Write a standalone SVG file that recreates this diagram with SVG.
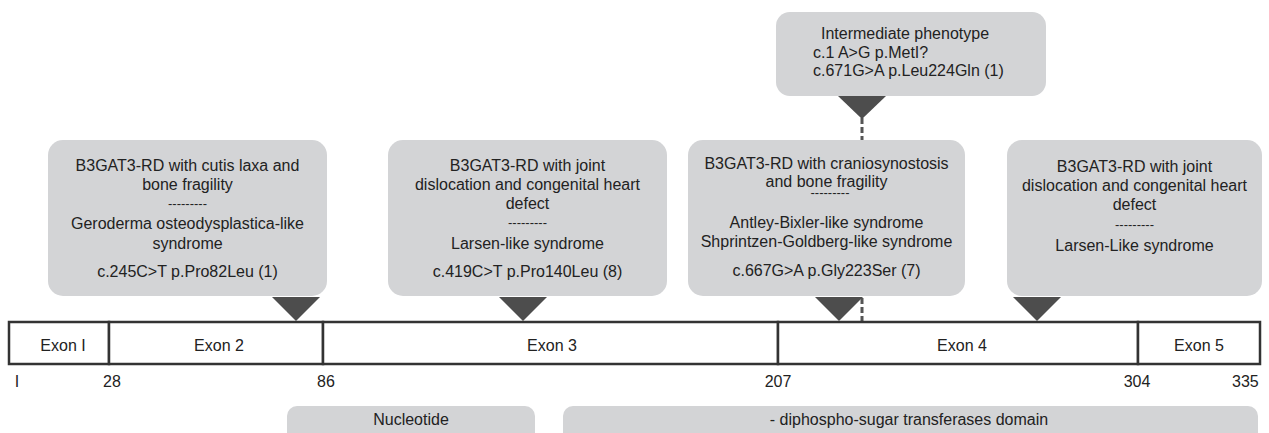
<svg xmlns="http://www.w3.org/2000/svg" width="1269" height="433" viewBox="0 0 1269 433">
<style>
  text { font-family: "Liberation Sans", Arial, sans-serif; font-size: 16px; fill: #222; }
  .c { text-anchor: middle; }
  .dash { font-size: 13px; }
  .box { fill: #d3d4d6; }
  .tri { fill: #4d4d4d; }
  .exon { fill: #fff; stroke: #333; stroke-width: 2.5; }
  .link { stroke: #555; stroke-width: 3; stroke-dasharray: 6 3; fill: none; }
</style>
<rect width="1269" height="433" fill="#fff"/>

<g id="connectors">
  <line class="link" x1="862" y1="118" x2="862" y2="322"/>
  <polygon class="tri" points="838,96 886,96 862,119"/>
  <polygon class="tri" points="272,297 320,297 296,321"/>
  <polygon class="tri" points="499,297 547,297 523,321"/>
  <polygon class="tri" points="815,297 863,297 839,321"/>
  <polygon class="tri" points="1013,297 1061,297 1037,321"/>
</g>

<g id="intermediate">
  <rect class="box" x="776" y="12" width="270" height="84" rx="14"/>
  <text class="c" x="905" y="39">Intermediate phenotype</text>
  <text x="813" y="58">c.1 A&gt;G p.MetI?</text>
  <text x="813" y="76">c.671G&gt;A p.Leu224Gln (1)</text>
</g>

<g id="box-cutis-laxa">
  <rect class="box" x="48" y="140" width="279" height="156" rx="15"/>
  <text class="c" x="187.5" y="171">B3GAT3-RD with cutis laxa and</text>
  <text class="c" x="187.5" y="190">bone fragility</text>
  <text class="c dash" x="187.5" y="208">---------</text>
  <text class="c" x="187.5" y="229">Geroderma osteodysplastica-like</text>
  <text class="c" x="187.5" y="249">syndrome</text>
  <text class="c" x="187.5" y="277">c.245C&gt;T p.Pro82Leu (1)</text>
</g>

<g id="box-joint-dislocation-1">
  <rect class="box" x="388" y="140" width="279" height="156" rx="15"/>
  <text class="c" x="527.5" y="171">B3GAT3-RD with joint</text>
  <text class="c" x="527.5" y="190">dislocation and congenital heart</text>
  <text class="c" x="527.5" y="209">defect</text>
  <text class="c dash" x="527.5" y="227">---------</text>
  <text class="c" x="527.5" y="249">Larsen-like syndrome</text>
  <text class="c" x="527.5" y="277">c.419C&gt;T p.Pro140Leu (8)</text>
</g>

<g id="box-craniosynostosis">
  <rect class="box" x="688" y="140" width="277" height="156" rx="15"/>
  <text class="c" x="826.5" y="169">B3GAT3-RD with craniosynostosis</text>
  <text class="c" x="826.5" y="187">and bone fragility</text>
  <text class="c dash" x="830" y="197">---------</text>
  <text class="c" x="826.5" y="228">Antley-Bixler-like syndrome</text>
  <text class="c" x="826.5" y="247">Shprintzen-Goldberg-like syndrome</text>
  <text class="c" x="826.5" y="276">c.667G&gt;A p.Gly223Ser (7)</text>
</g>

<g id="box-joint-dislocation-2">
  <rect class="box" x="1007" y="140" width="255" height="156" rx="15"/>
  <text class="c" x="1134.5" y="172">B3GAT3-RD with joint</text>
  <text class="c" x="1134.5" y="191">dislocation and congenital heart</text>
  <text class="c" x="1134.5" y="210">defect</text>
  <text class="c dash" x="1134.5" y="229">---------</text>
  <text class="c" x="1134.5" y="251">Larsen-Like syndrome</text>
</g>

<g id="gene">
  <rect class="exon" x="9" y="322" width="100" height="42"/>
  <rect class="exon" x="109" y="322" width="214" height="42"/>
  <rect class="exon" x="323" y="322" width="455" height="42"/>
  <rect class="exon" x="778" y="322" width="360" height="42"/>
  <rect class="exon" x="1138" y="322" width="122" height="42"/>
  <text class="c" x="63" y="351">Exon I</text>
  <text class="c" x="219" y="351">Exon 2</text>
  <text class="c" x="552" y="351">Exon 3</text>
  <text class="c" x="962" y="351">Exon 4</text>
  <text class="c" x="1199" y="351">Exon 5</text>
</g>

<g id="positions">
  <text class="c" x="17" y="387">I</text>
  <text class="c" x="112" y="387">28</text>
  <text class="c" x="326" y="387">86</text>
  <text class="c" x="778" y="387">207</text>
  <text class="c" x="1137" y="387">304</text>
  <text x="1232" y="387">335</text>
</g>

<g id="domain-nucleotide">
  <rect class="box" x="287" y="406" width="248" height="50" rx="10"/>
  <text class="c" x="411" y="425">Nucleotide</text>
</g>

<g id="domain-transferase">
  <rect class="box" x="563" y="406" width="695" height="50" rx="10"/>
  <text class="c" x="909" y="425">- diphospho-sugar transferases domain</text>
</g>
</svg>
